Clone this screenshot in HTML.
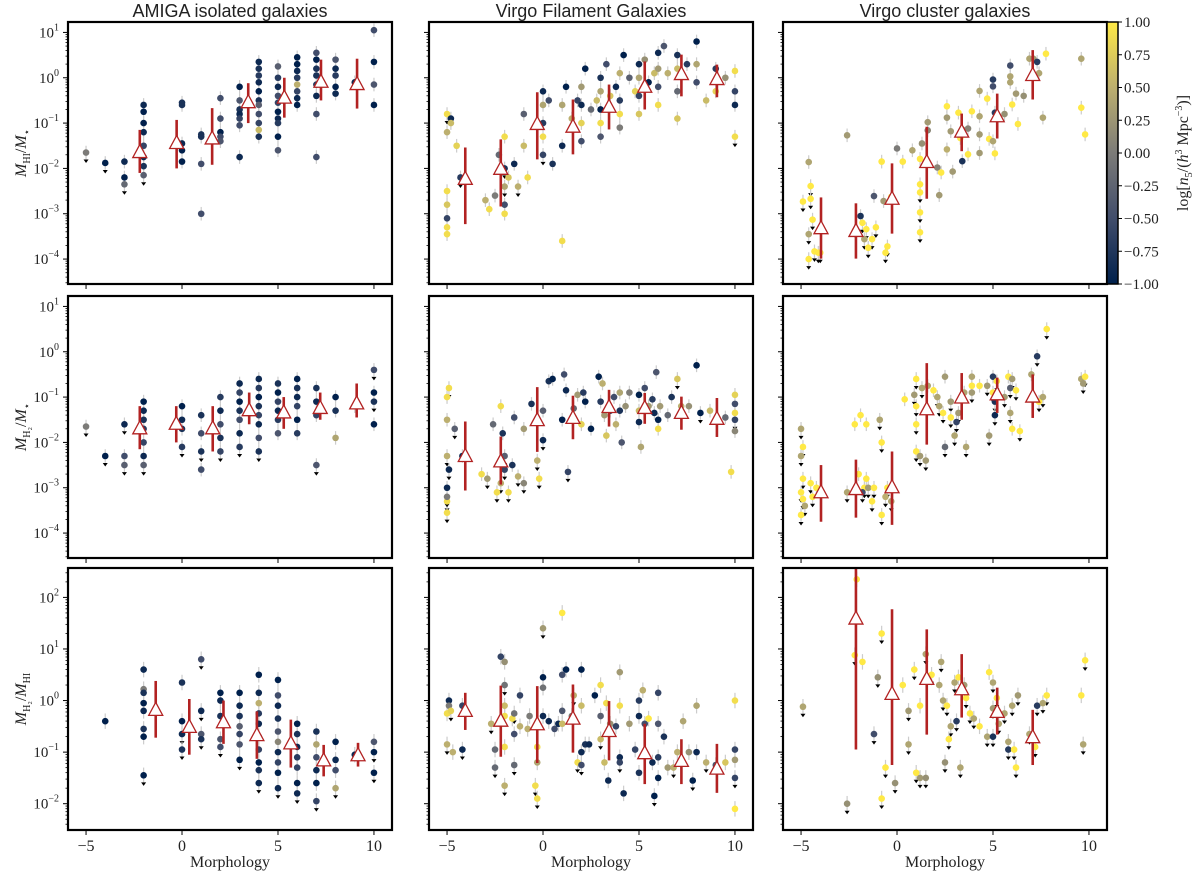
<!DOCTYPE html>
<html><head><meta charset="utf-8"><style>
body{margin:0;background:#fff;width:1200px;height:885px;overflow:hidden}
svg{display:block}
text{font-family:"Liberation Serif",serif;fill:#222}
.t{font-family:"Liberation Sans",sans-serif;font-size:18px}
</style></head><body>
<svg id="chart" width="1200" height="885" xmlns="http://www.w3.org/2000/svg">
<defs><linearGradient id="cmap" x1="0" y1="1" x2="0" y2="0">
<stop offset="0" stop-color="#00204c"/><stop offset="0.25" stop-color="#414d6b"/><stop offset="0.5" stop-color="#7c7b78"/><stop offset="0.75" stop-color="#bcaf6f"/><stop offset="1" stop-color="#ffe945"/></linearGradient></defs>
</svg>
<script>
// data: [morphology, log10 value, log density, upperLimit]
const amigaHI=[[-5,-1.65,0,1],[-4,-1.88,-1,1],[-3,-1.85,-0.9,0],[-3,-2.2,-1,0],[-3,-2.35,-0.2,1],[-2,-0.6,-0.9,0],[-2,-0.75,-1,0],[-2,-1.0,-1,0],[-2,-1.2,-0.9,0],[-2,-1.5,-0.6,0],[-2,-1.75,-0.9,0],[-2,-1.95,-0.8,0],[-2,-2.15,-0.3,1],[0,-0.55,-0.8,0],[0,-0.6,-0.8,0],[0,-1.45,-0.9,0],[0,-1.6,-1,0],[0,-1.85,-1,0],[1,-1.25,-0.8,0],[1,-1.3,-0.8,0],[1,-1.9,-0.5,0],[1,-3.0,-0.5,0],[2,-0.45,-0.5,0],[2,-0.9,-0.5,0],[2,-1.2,-1,0],[2,-1.3,-0.5,0],[2,-1.4,-0.4,0],[3,-0.2,-1,0],[3,-0.5,-0.4,0],[3,-0.7,-0.8,0],[3,-0.8,-0.9,0],[3,-0.9,-0.6,0],[3,-1.05,-0.5,0],[3,-1.75,-0.9,0],[4,0.35,-0.9,0],[4,0.2,-0.8,0],[4,0.05,-0.7,0],[4,-0.1,-0.9,0],[4,-0.3,-1,0],[4,-0.5,-0.8,0],[4,-0.6,-0.3,0],[4,-0.8,-0.5,0],[4,-1.0,-0.6,0],[4,-1.15,0.6,0],[4,-1.3,-0.8,0],[5,0.25,-0.3,0],[5,0.0,-0.7,0],[5,-0.2,-0.9,0],[5,-0.4,-0.5,0],[5,-0.55,-0.6,0],[5,-0.75,-1,0],[5,-0.9,-0.9,0],[5,-1.0,-0.7,0],[5,-1.3,-1,0],[5,-1.6,-0.4,0],[6,0.45,-1,0],[6,0.3,-1,0],[6,0.15,-0.9,0],[6,0.0,-0.7,0],[6,-0.15,0.5,0],[6,-0.3,-0.6,0],[6,-0.45,-0.9,0],[6,-0.6,-1,0],[7,0.55,-0.5,0],[7,0.4,-1,0],[7,0.2,-0.8,0],[7,0.05,-0.8,0],[7,-0.15,-0.7,0],[7,-0.4,-0.9,0],[7,-0.8,-0.5,0],[7,-1.75,-0.5,0],[8,0.4,-0.4,0],[8,0.2,-0.9,0],[8,0.05,-0.7,0],[8,-0.2,-1,0],[8,-0.35,-0.9,0],[9,-0.1,-0.9,0],[10,1.05,-0.5,0],[10,0.35,-1,0],[10,-0.15,-0.4,0],[10,-0.6,-1,0]];
const amigaH2=[[-5,-1.65,0,1],[-4,-2.3,-1,1],[-3,-1.6,-0.9,1],[-3,-2.3,-0.5,0],[-3,-2.5,-0.3,1],[-2,-1.1,-1,0],[-2,-1.3,-0.9,0],[-2,-1.5,-0.8,0],[-2,-1.7,-0.7,0],[-2,-2.0,-0.6,0],[-2,-2.3,-0.9,0],[-2,-2.5,-0.3,1],[0,-1.2,-1,0],[0,-1.5,-0.9,0],[0,-1.7,-0.8,0],[0,-2.1,-0.7,1],[1,-1.4,-0.8,0],[1,-1.8,-0.5,0],[1,-2.2,-0.8,1],[1,-2.6,-0.5,0],[2,-1.0,-0.7,0],[2,-1.3,-0.9,0],[2,-1.6,-0.5,0],[2,-1.9,-0.8,0],[2,-2.2,-0.6,1],[3,-0.7,-0.9,0],[3,-0.9,-0.6,0],[3,-1.1,-1,0],[3,-1.3,-0.8,0],[3,-1.5,-0.5,0],[3,-1.8,-0.9,0],[3,-2.1,-0.7,1],[4,-0.6,-0.9,0],[4,-0.8,-0.7,0],[4,-1.0,-1,0],[4,-1.2,-0.8,0],[4,-1.4,-0.6,0],[4,-1.6,-0.9,0],[4,-1.9,-0.5,0],[4,-2.2,-0.8,1],[5,-0.7,-0.8,0],[5,-0.9,-1,0],[5,-1.1,-0.6,0],[5,-1.3,-0.9,0],[5,-1.5,-0.7,0],[5,-1.8,-0.4,0],[6,-0.6,-1,0],[6,-0.8,-0.8,0],[6,-1.0,-0.9,0],[6,-1.2,-0.6,0],[6,-1.5,-1,0],[6,-1.8,-0.7,0],[7,-0.8,-0.8,0],[7,-1.1,-0.9,0],[7,-1.4,-0.6,0],[7,-2.5,-0.4,1],[8,-1.0,-1,0],[8,-1.3,-0.8,0],[8,-1.9,0.4,0],[9,-1.2,-0.9,0],[10,-0.4,-0.5,1],[10,-0.9,-1,0],[10,-1.1,-0.8,1],[10,-1.6,-1,0]];
const amigaRatio=[[-4,-0.4,-1,0],[-2,0.6,-0.9,0],[-2,0.22,0,0],[-2,0.15,-0.8,0],[-2,-0.05,-1,0],[-2,-0.2,-0.9,0],[-2,-0.55,-0.8,1],[-2,-0.7,-1,0],[-2,-1.45,-1,1],[0,0.35,-0.8,0],[0,-0.4,-1,0],[0,-0.65,-0.9,1],[0,-0.95,-0.8,1],[1,0.8,-0.5,1],[1,-0.2,-0.9,1],[1,-0.65,-0.4,0],[1,-0.75,-0.8,1],[2,0.15,-1,0],[2,0.0,-0.9,0],[2,-0.3,-0.8,0],[2,-0.75,-0.4,0],[2,-0.9,-0.5,1],[3,0.15,-1,0],[3,-0.1,-0.9,0],[3,-0.3,-0.8,0],[3,-0.5,-0.3,0],[3,-0.65,-0.6,0],[3,-0.85,-0.4,0],[3,-1.15,-1,1],[4,0.5,-1,0],[4,0.15,-0.9,0],[4,-0.05,0.5,0],[4,-0.25,-0.7,0],[4,-0.45,-0.9,0],[4,-0.7,-0.8,0],[4,-0.95,-0.6,0],[4,-1.2,-1,0],[4,-1.35,-0.8,0],[4,-1.6,-0.9,1],[5,0.4,-1,0],[5,0.1,-0.5,0],[5,-0.1,-0.9,0],[5,-0.35,-0.8,0],[5,-0.6,-0.4,0],[5,-0.8,0.1,0],[5,-1.0,-0.9,0],[5,-1.2,-0.6,0],[5,-1.4,-1,0],[5,-1.7,-0.9,1],[6,-0.45,-1,0],[6,-0.65,-0.8,0],[6,-0.9,-0.9,0],[6,-1.1,-0.7,0],[6,-1.3,-0.6,0],[6,-1.6,-1,0],[6,-1.8,-0.9,1],[7,-0.6,-0.8,0],[7,-0.85,0.4,0],[7,-1.1,-0.5,0],[7,-1.35,-0.9,0],[7,-1.6,-1,0],[7,-1.95,-0.6,1],[8,-0.8,-1,0],[8,-1.15,-0.9,0],[8,-1.35,-0.5,0],[8,-1.7,0.4,1],[9,-1.05,-0.9,0],[10,-0.8,-0.4,0],[10,-1.0,-1,1],[10,-1.4,-1,1]];
const filHI=[[-5,-0.8,0.9,1],[-5,-1.2,0.5,0],[-5,-2.5,0.9,0],[-5,-2.8,0.7,0],[-5,-3.1,-0.6,1],[-5,-3.3,0.9,1],[-5,-3.45,0.9,0],[-4.8,-0.9,-0.9,0],[-4.8,-1.0,0.6,0],[-4.5,-1.5,0.8,0],[-4.3,-2.2,-0.7,1],[-3,-2.7,0.5,0],[-2.8,-2.9,0.9,0],[-2.5,-2.6,0,0],[-2.3,-1.7,-0.2,0],[-2,-1.3,0.9,0],[-2,-2.0,-0.8,1],[-2,-2.4,0.4,1],[-2,-2.8,-0.5,1],[-2,-3.0,0.9,0],[-1.8,-2.2,0.7,0],[-1.5,-1.9,-0.9,0],[-1.3,-2.4,0.5,1],[-1,-0.8,-0.3,0],[-1,-1.5,0.6,0],[-0.8,-2.2,0.9,0],[0,-0.3,-0.9,0],[0,-0.6,0.4,0],[0,-1.0,-0.7,0],[0,-1.3,0.9,0],[0,-1.7,-0.6,1],[0.3,-0.5,-0.5,0],[0.5,-1.9,-0.8,0],[1,-0.6,0.4,0],[1,-1.5,-0.9,0],[1,-3.6,0.9,0],[1.2,-0.2,-1,0],[1.5,-0.9,0.5,0],[1.8,-0.5,-0.6,0],[2,-0.2,0.3,0],[2,-0.6,-0.9,0],[2,-1.0,0.8,0],[2,-1.4,-0.5,0],[2.2,0.2,-1,0],[2.5,-0.7,-0.2,0],[2.8,-0.5,0.6,0],[3,0.0,-0.8,0],[3,-0.3,0.4,0],[3,-0.7,-1,0],[3,-1.0,0.9,0],[3,-1.3,-0.4,0],[3.3,0.3,-0.5,0],[3.5,-0.4,0.7,0],[3.8,-0.2,-0.9,0],[4,0.1,0.5,0],[4,-0.5,-0.7,0],[4,-0.8,0.9,0],[4,-1.1,0,0],[4.2,0.5,-1,0],[4.5,0.0,-0.3,0],[4.8,-0.3,0.8,0],[5,0.3,-0.9,0],[5,0.0,0.4,0],[5,-0.4,-0.6,0],[5,-0.8,0.7,0],[5.3,0.4,0.2,0],[5.5,-0.1,-1,0],[5.8,0.1,0.6,0],[6,0.55,-0.9,0],[6,0.2,0.3,0],[6,-0.2,-0.5,0],[6,-0.6,0.9,0],[6.3,0.7,-0.4,0],[6.5,0.1,0.5,0],[7,0.5,-0.8,0],[7,0.2,0.6,0],[7,-0.3,-0.2,0],[7,-0.9,0.7,0],[7.5,0.3,-0.7,0],[8,0.8,-1,0],[8,0.3,0.4,0],[8,-0.1,-0.5,0],[8.5,-0.5,0.6,0],[9,0.2,-0.7,0],[9,-0.3,0.8,0],[9.5,0.0,0.2,0],[10,0.15,0.9,0],[10,-0.3,-0.6,0],[10,-0.6,-0.9,0],[10,-1.3,0.9,1]];
const filH2=[[-5,-1.0,0.9,0],[-5,-1.5,0.5,0],[-4.9,-0.8,0.9,1],[-5,-2.3,0.5,1],[-5,-3.0,-0.9,0],[-5,-3.3,0.9,1],[-5,-3.55,0.9,1],[-5,-3.2,0,1],[-4.9,-2.6,-0.9,1],[-4.6,-1.7,-0.3,1],[-4.2,-2.3,-0.9,0],[-3.2,-2.7,0.9,0],[-2.9,-2.8,0.3,1],[-2.6,-1.6,-0.2,0],[-2.4,-3.1,0.9,1],[-2.2,-2.9,0.5,1],[-2.2,-1.2,0.9,0],[-2.1,-1.8,-0.8,0],[-2,-2.3,-0.3,1],[-2,-2.6,-0.6,1],[-1.8,-3.1,0.9,1],[-1.6,-2.5,-0.8,0],[-1.5,-1.45,-0.5,0],[-1.3,-2.75,0.5,1],[-1,-2.9,0.1,1],[-1,-1.7,0.3,0],[-0.6,-1.15,-0.8,0],[-0.3,-2.4,0.5,1],[-0.2,-2.8,0.9,1],[0,-1.3,-0.3,0],[0,-1.95,-0.9,1],[0.3,-0.65,-0.8,0],[0.5,-0.6,-1,0],[1,-1.5,-1,0],[1.1,-0.5,-0.5,0],[1.2,-0.85,-0.9,0],[1.3,-2.65,-0.6,1],[1.6,-1.25,-0.2,0],[1.8,-0.95,0.3,0],[2,-1.6,0.8,0],[2.1,-0.9,-0.7,0],[2.2,-1.1,-1,0],[2.5,-1.7,-1,0],[2.9,-0.55,-1,0],[3,-1.1,-0.7,0],[3.1,-0.7,0.5,0],[3.2,-1.4,0.3,0],[3.3,-1.85,0.7,0],[3.5,-1.3,-0.9,0],[3.7,-1.0,-0.5,0],[3.8,-1.6,0.5,0],[4,-0.9,0.4,0],[4,-1.3,-0.8,0],[4.1,-2.0,-0.4,0],[4.3,-1.2,0.2,0],[4.5,-0.9,0,0],[5,-0.95,-1,0],[5,-1.3,0.6,0],[5,-1.55,-0.9,0],[5.1,-2.1,0.4,0],[5.3,-0.8,-0.5,0],[5.5,-1.2,0.3,0],[5.7,-1.05,-0.7,0],[5.8,-1.35,-0.9,0],[5.9,-0.45,-0.4,0],[6,-1.5,-1,1],[6,-1.7,0.9,0],[6.1,-1.2,0.3,0],[6.5,-1.4,-0.2,0],[6.7,-1.0,-0.8,0],[7,-0.6,0.7,1],[7.2,-1.2,0.5,0],[7.6,-1.2,0.2,0],[8,-0.3,-1,0],[8.2,-1.35,-1,1],[8.7,-1.3,0.6,0],[9.5,-1.45,-0.2,0],[10,-0.95,0.8,0],[10,-1.15,-0.5,1],[10,-1.35,0.9,0],[10,-1.5,-0.6,1],[10,-1.75,0.1,0],[9.8,-2.65,0.9,0]];
const filRatio=[[-5,-0.25,0.9,0],[-4.9,0.0,-0.9,0],[-4.9,-0.1,0,1],[-4.8,-0.2,0.8,1],[-5,-0.85,0.5,1],[-4.7,-1.0,0.5,0],[-4.2,-0.1,-0.6,1],[-4.2,-0.95,-0.9,1],[-2.7,-0.45,0.5,1],[-2.5,-0.95,-0.2,0],[-2.5,-1.3,-0.2,1],[-2.2,0.85,-0.6,0],[-2,0.75,0.2,0],[-2,0.3,-0.1,1],[-2,-0.1,0.6,0],[-2,-0.3,0.9,0],[-2,-0.9,0.9,0],[-2,-1.65,0.5,1],[-1.6,-0.35,0.9,0],[-1.5,-0.25,-0.1,1],[-1.5,-0.65,-0.5,0],[-1.5,-1.25,-0.2,1],[-1.2,0.1,-0.6,0],[-1.2,-0.5,0.5,0],[-0.8,-0.55,0.5,0],[-0.7,-0.3,0,0],[-0.4,-1.65,0.9,1],[-0.3,-1.9,0.9,1],[-0.3,-0.9,0.9,0],[-0.3,-1.2,0.4,0],[0,1.4,0.3,1],[0,0.45,-1,0],[0,0.25,-0.1,0],[0,-0.3,-0.9,0],[0.3,-0.4,-0.9,0],[0.6,-0.55,-0.5,0],[0.8,-0.45,-0.9,0],[1,0.5,-0.5,0],[1,-0.2,-0.4,0],[1,-0.45,0.6,0],[1,1.7,1,0],[1.2,0.6,-1,0],[1.5,-0.3,0,0],[1.6,0.1,0.5,1],[1.8,-1.2,0.9,1],[2,0.6,-1,0],[2,-0.1,0.6,0],[2,-1.0,-0.9,0],[2,-1.25,-0.5,1],[2.2,-0.85,-0.8,0],[2.4,-0.85,-0.9,0],[2.7,0.1,-1,0],[3,0.3,0.9,0],[3,-0.3,-0.3,0],[3,-0.75,0.6,1],[3.2,-1.2,0.6,0],[3.3,-0.05,0.9,0],[3.4,-1.55,-0.9,0],[3.5,-0.45,0.2,0],[3.8,-0.5,-0.6,0],[4,0.55,0.3,0],[4,-0.1,0.9,0],[4,-1.1,-0.9,0],[4,-1.2,-0.6,1],[4.2,-1.8,-0.9,0],[4.5,-0.45,0.3,0],[4.8,-0.95,-0.6,0],[5,-0.3,-0.9,0],[5,0.0,-0.7,0],[5,-1.4,-0.8,0],[5.2,0.2,0.5,0],[5.3,-0.45,-0.5,0],[5.5,-0.35,1,0],[5.7,-1.2,-0.9,0],[5.8,-1.85,-1,1],[6,-0.45,-0.4,0],[6,0.15,-0.6,0],[6,-1.5,-1,0],[6,-1.1,-0.7,0],[6.3,-0.7,-0.8,0],[6.5,-1.3,0.3,0],[6.8,-1.3,0.5,1],[7,-1.0,0.5,0],[7.3,-0.4,0.4,0],[7.6,-1.0,0.2,0],[7.8,-1.55,-1,1],[8,-1.0,-0.9,0],[8,-0.1,0.4,0],[8.5,-1.2,0.5,1],[9,-1.25,-0.4,0],[9.5,-1.2,0.7,0],[10,0.0,0.9,0],[10,-0.95,-0.6,0],[10,-1.15,0.3,0],[10,-1.5,-0.6,1],[10,-2.1,1,0]];
const cluHI=[[-4.9,-2.73,1,1],[-4.6,-1.86,0.4,0],[-4.5,-2.39,1,1],[-4.5,-2.67,1,1],[-4.4,-3.13,1,1],[-4.6,-3.45,0.4,1],[-4.6,-4.0,1,1],[-4.3,-3.83,1,1],[-4.1,-3.86,1,1],[-4.0,-3.86,1,1],[-2.6,-1.27,0.3,0],[-2.2,-3.38,1,0],[-1.9,-3.05,-0.8,0],[-1.8,-3.2,1,1],[-1.6,-3.34,1,1],[-1.5,-3.75,1,1],[-1.7,-3.56,0.4,1],[-1.3,-3.56,1,1],[-1.1,-3.3,1,1],[-1.2,-2.61,-0.4,0],[-0.7,-2.72,0.3,0],[-0.6,-3.86,1,1],[-0.5,-3.72,1,1],[-0.3,-2.63,1,0],[0,-1.56,0,0],[0.3,-1.85,1,0],[-0.8,-1.85,1,0],[0.8,-1.6,0.4,0],[1.2,-1.79,1,0],[1.2,-2.35,1,0],[1.2,-2.53,1,1],[1.2,-2.97,1,1],[1.2,-3.41,1,1],[1.3,-1.45,0.2,0],[1.6,-0.98,0.3,0],[1.6,-1.16,0.1,0],[2.1,-1.98,0.1,0],[2.2,-2.59,0.3,0],[2.3,-2.09,1,0],[2.6,-0.63,1,0],[2.6,-0.88,0.3,0],[2.8,-1.18,0.3,0],[2.6,-1.58,0.5,0],[2.9,-2.07,0.3,0],[3.2,-0.77,1,0],[3.3,-1.33,1,0],[3.4,-1.14,0.2,0],[3.4,-1.84,-0.8,0],[3.7,-1.69,1,0],[3.7,-1.12,0.1,0],[3.9,-0.74,1,0],[4.3,-0.29,0.4,0],[4.3,-0.85,0.4,0],[4.3,-1.25,0.3,0],[4.3,-1.66,0.3,0],[4.7,-0.46,1,0],[4.8,-1.35,1,0],[5.0,-0.04,-0.7,0],[5.0,-0.19,-0.5,0],[5.1,-0.77,-0.7,0],[5.0,-1.4,0.4,0],[5.1,-1.67,1,0],[5.6,-0.8,0.2,0],[5.9,0.27,-0.5,0],[5.9,0.03,0.4,0],[5.9,-0.1,0.4,0],[6.0,-0.59,1,0],[6.2,-0.35,0.3,0],[6.3,-1.02,1,0],[6.6,-0.4,0.2,0],[6.9,0.42,0.4,0],[7.1,0.42,0.3,0],[7.3,0.35,-0.7,0],[7.4,0.1,0.4,0],[7.76,0.53,1,0],[7.6,-0.88,0.4,0],[9.6,0.42,0.4,0],[9.6,-0.66,1,0],[9.8,-1.25,1,0]];
const cluH2=[[-5,-1.7,0.4,1],[-4.9,-2.1,1,1],[-5,-2.3,0.4,1],[-4.9,-2.8,1,1],[-5,-3.1,1,1],[-4.9,-3.25,1,1],[-5,-3.6,1,1],[-4.8,-3.4,0.4,1],[-4.5,-2.9,1,1],[-4.4,-3.2,1,1],[-4.2,-3.0,1,1],[-2.6,-3.1,0.4,1],[-2.2,-1.6,1,0],[-2,-2.7,1,0],[-1.9,-1.4,1,0],[-1.7,-3.0,1,1],[-1.6,-2.8,1,1],[-1.8,-3.1,-0.5,1],[-1.5,-3.0,0.3,1],[-1.3,-3.3,1,1],[-1.2,-3.0,1,1],[-1.6,-1.6,1,0],[-0.9,-1.5,0.4,1],[-0.8,-2.0,1,1],[-0.8,-3.6,1,1],[-0.6,-3.2,0.5,1],[-0.5,-3.0,1,1],[-0.3,-3.3,0.4,1],[0.4,-1.05,1,0],[1.0,-0.6,1,1],[1.0,-1.2,1,1],[1.0,-1.6,1,1],[1.0,-2.2,1,1],[1.2,-2.3,0.3,1],[1.5,-2.4,0.3,1],[0.9,-0.95,0.3,1],[1.3,-0.8,0.4,1],[1.6,-0.75,0.4,0],[1.9,-0.85,1,0],[2.1,-1.0,0.4,1],[2.2,-1.2,0.4,1],[2.5,-0.55,0.3,0],[2.5,-2.1,-0.2,1],[2.4,-1.35,1,1],[2.8,-1.1,0.3,1],[2.8,-1.45,1,1],[3.0,-1.85,0.4,1],[3.1,-1.55,-0.6,1],[3.2,-1.35,0.3,1],[3.5,-0.9,0.4,0],[3.6,-2.1,0.4,1],[3.9,-0.55,0.4,1],[3.9,-0.75,1,1],[3.9,-0.9,0.3,1],[4.3,-0.75,1,0],[4.7,-0.75,0.3,1],[4.8,-1.85,0.3,1],[5.0,-0.55,-0.7,0],[5.0,-0.9,1,1],[5.1,-1.1,-0.8,1],[5.1,-1.4,-0.9,1],[5.2,-0.65,1,1],[5.6,-1.0,0.3,1],[5.8,-0.55,1,0],[5.9,-0.8,-0.3,1],[5.9,-1.35,0.4,1],[6.0,-1.7,1,0],[6.0,-0.6,0.3,1],[6.2,-0.85,1,1],[6.4,-1.75,1,1],[7.0,-0.5,0.4,0],[7.4,-1.1,1,1],[7.3,-0.1,-0.7,1],[7.6,-1.0,0.4,1],[7.8,0.5,1,1],[9.6,-0.6,0.4,0],[9.8,-0.55,1,1],[9.7,-0.7,0.3,1]];
const cluRatio=[[-4.9,-0.12,0.4,1],[-2.6,-2.0,0.2,1],[-2.1,2.35,1,0],[-2.2,0.88,1,1],[-1.8,0.75,1,0],[-1.0,0.45,0.2,1],[-1.2,-0.65,-0.5,1],[-0.8,1.3,1,1],[-0.6,-1.3,1,1],[-0.8,-1.9,1,1],[-0.1,-1.6,0.2,1],[0.3,0.3,1,0],[0.6,-0.2,0.3,1],[0.6,-0.85,0.4,1],[0.9,0.6,1,1],[1.0,-1.4,1,1],[1.2,-1.5,0.3,1],[1.2,-0.1,1,0],[1.5,-1.5,0.2,1],[1.5,0.9,0.4,1],[1.8,0.5,1,1],[2.2,0.3,0.4,0],[2.3,0.75,0.4,1],[2.4,0.0,0.4,1],[2.5,-1.2,0.2,1],[2.6,-0.1,1,1],[2.8,-0.5,0.4,1],[2.7,-0.75,1,1],[3.0,0.35,0.4,1],[3.1,-0.4,-0.7,1],[3.2,0.45,1,0],[3.3,-1.3,0.4,1],[3.5,0.3,0.3,1],[3.6,0.05,1,1],[3.8,-0.25,1,1],[4.0,-0.35,0.4,1],[4.3,-0.5,1,0],[4.7,-0.7,0.4,1],[4.8,0.55,1,0],[5.0,-0.15,0.3,1],[5.0,0.35,0.4,1],[5.0,-0.7,-0.8,1],[5.2,0.05,1,1],[5.3,-0.45,0.4,1],[5.6,-0.25,0.4,1],[5.8,-0.8,0.4,1],[5.8,-0.95,-0.7,1],[6.0,-0.1,0.4,1],[6.1,-0.95,1,1],[6.2,-1.3,1,1],[6.3,0.1,0.3,1],[6.9,-0.65,0.4,1],[7.2,-0.9,1,1],[7.3,-0.1,-0.7,1],[7.6,-0.05,0.4,1],[7.8,0.1,1,1],[9.6,0.1,1,0],[9.8,0.78,1,1],[9.7,-0.85,0.4,1]];
// medians: [morphology, log median, log low, log high]
const medAmigaHI=[[-2.2,-1.65,-2.1,-1.15],[-0.28,-1.45,-2.0,-0.93],[1.57,-1.35,-1.92,-0.67],[3.45,-0.55,-1.0,-0.12],[5.33,-0.45,-0.88,0.0],[7.24,-0.1,-0.5,0.4],[9.12,-0.15,-0.68,0.42]];
const medAmigaH2=[[-2.2,-1.7,-2.15,-1.2],[-0.3,-1.6,-2.0,-1.2],[1.6,-1.7,-2.2,-1.2],[3.5,-1.3,-1.6,-0.9],[5.3,-1.35,-1.7,-1.0],[7.2,-1.25,-1.5,-0.9],[9.1,-1.15,-1.45,-0.7]];
const medAmigaRatio=[[-1.37,-0.19,-0.72,0.38],[0.38,-0.52,-1.05,0.03],[2.16,-0.43,-0.84,0.0],[3.9,-0.68,-1.13,-0.21],[5.67,-0.84,-1.3,-0.37],[7.38,-1.17,-1.47,-0.86],[9.17,-1.07,-1.28,-0.82]];
const medFilHI=[[-4.05,-2.24,-3.23,-1.54],[-2.2,-2.02,-2.84,-1.36],[-0.3,-1.03,-1.8,-0.32],[1.56,-1.09,-1.69,-0.48],[3.44,-0.65,-1.14,-0.15],[5.3,-0.21,-0.7,0.36],[7.21,0.07,-0.41,0.51],[9.06,-0.04,-0.43,0.29]];
const medFilH2=[[-4.05,-2.31,-3.06,-1.54],[-2.2,-2.43,-2.93,-1.87],[-0.3,-1.52,-2.21,-0.78],[1.56,-1.47,-1.93,-0.97],[3.44,-1.23,-1.65,-0.84],[5.3,-1.25,-1.59,-0.91],[7.21,-1.36,-1.72,-0.99],[9.06,-1.49,-1.88,-1.02]];
const medFilRatio=[[-4.05,-0.21,-0.57,0.15],[-2.2,-0.4,-1.09,0.29],[-0.3,-0.47,-1.21,0.28],[1.56,-0.36,-1.01,0.31],[3.44,-0.6,-1.16,-0.01],[5.3,-1.03,-1.62,-0.45],[7.21,-1.18,-1.62,-0.75],[9.06,-1.33,-1.79,-0.84]];
const medCluHI=[[-3.96,-3.33,-3.99,-2.64],[-2.14,-3.39,-3.99,-2.77],[-0.26,-2.68,-3.44,-1.89],[1.55,-1.87,-2.67,-1.08],[3.37,-1.2,-1.62,-0.79],[5.22,-0.86,-1.34,-0.35],[7.07,0.05,-0.48,0.61]];
const medCluH2=[[-3.96,-3.11,-3.75,-2.5],[-2.14,-3.04,-3.66,-2.38],[-0.26,-3.0,-3.82,-2.2],[1.55,-1.28,-2.05,-0.25],[3.37,-1.02,-1.5,-0.47],[5.22,-0.95,-1.35,-0.57],[7.07,-1.0,-1.46,-0.5]];
const medCluRatio=[[-2.14,1.58,-0.95,2.6],[-0.26,0.12,-1.25,1.77],[1.55,0.41,-0.66,1.38],[3.37,0.21,-0.33,0.9],[5.22,-0.23,-0.66,0.25],[7.07,-0.72,-1.25,-0.18]];
const titles=["AMIGA isolated galaxies","Virgo Filament Galaxies","Virgo cluster galaxies"];
const xTicks=[-5,0,5,10];
const cbTicks=["1.00","0.75","0.50","0.25","0.00","\u22120.25","\u22120.50","\u22120.75","\u22121.00"];

const NS="http://www.w3.org/2000/svg";
const svg=document.getElementById('chart');
const colL=[68,429,783], W=324, rowT=[22,296,568], H=262;
const yRange=[[-4.55,1.23],[-4.55,1.23],[-2.51,2.57]];
const xMin=-5.94,xMax=10.94;
function mk(tag,attrs,parent){const e=document.createElementNS(NS,tag);for(const k in attrs)e.setAttribute(k,attrs[k]);(parent||svg).appendChild(e);return e;}
function cmap(d){const s=[[0,32,76],[65,77,107],[124,123,120],[188,175,111],[255,233,69]];let t=(Math.max(-1,Math.min(1,d))+1)*2;let i=Math.min(3,Math.floor(t));let f=t-i;const c=s[i].map((v,k)=>Math.round(v+(s[i+1][k]-v)*f));return `rgb(${c})`;}
const panels=[[amigaHI,filHI,cluHI],[amigaH2,filH2,cluH2],[amigaRatio,filRatio,cluRatio]];
const meds=[[medAmigaHI,medFilHI,medCluHI],[medAmigaH2,medFilH2,medCluH2],[medAmigaRatio,medFilRatio,medCluRatio]];
const ylabels=['<tspan font-style="italic">M</tspan><tspan font-size="10" dy="4">HI</tspan><tspan dy="-4">/</tspan><tspan font-style="italic">M</tspan><tspan font-size="10" dy="4">⋆</tspan>',
'<tspan font-style="italic">M</tspan><tspan font-size="10" dy="4">H₂</tspan><tspan dy="-4">/</tspan><tspan font-style="italic">M</tspan><tspan font-size="10" dy="4">⋆</tspan>',
'<tspan font-style="italic">M</tspan><tspan font-size="10" dy="4">H₂</tspan><tspan dy="-4">/</tspan><tspan font-style="italic">M</tspan><tspan font-size="10" dy="4">HI</tspan>'];
for(let r=0;r<3;r++){for(let c=0;c<3;c++){
  const L=colL[c],T=rowT[r],[y0,y1]=yRange[r];
  const sx=v=>L+(v-xMin)/(xMax-xMin)*W;
  const sy=v=>T+H-(v-y0)/(y1-y0)*H;
  const g=mk('g',{});
  
  
  mk('rect',{x:L,y:T,width:W,height:H,fill:'#fff'},g);
  // y ticks
  for(let e=Math.ceil(y0);e<=Math.floor(y1);e++){
    mk('line',{x1:L-5,x2:L,y1:sy(e),y2:sy(e),stroke:'#000','stroke-width':1},g);
    for(let k=2;k<10;k++){const v=e+Math.log10(k);if(v<y1)mk('line',{x1:L-2.5,x2:L,y1:sy(v),y2:sy(v),stroke:'#000','stroke-width':0.8},g);}
    if(c===0){const t=mk('text',{x:L-9,y:sy(e)+5,'text-anchor':'end','font-size':15},g);t.innerHTML=`10<tspan font-size="10" dy="-7">${e<0?'\u2212'+(-e):e}</tspan>`;}
  }
  for(let k=2;k<10;k++){const v=Math.floor(y0)+Math.log10(k);if(v>y0)mk('line',{x1:L-2.5,x2:L,y1:sy(v),y2:sy(v),stroke:'#000','stroke-width':0.8},g);}
  xTicks.forEach(v=>{mk('line',{x1:sx(v),x2:sx(v),y1:T+H,y2:T+H+5,stroke:'#000','stroke-width':1},g);
    if(r===2){const t=mk('text',{x:sx(v),y:T+H+21,'text-anchor':'middle','font-size':16},g);t.textContent=v<0?'\u2212'+(-v):v;}});
  // points
  const pg=mk('g',{},g);
  
  
  panels[r][c].forEach(p=>{
    const x=sx(p[0]),y=sy(p[1]);
    mk('line',{x1:x,x2:x,y1:sy(p[1]+0.15),y2:sy(p[1]-0.15),stroke:'#ccc','stroke-width':1.2},pg);
    if(p[3]){mk('path',{d:`M${x-2.5},${y+7}h5l-2.5,3.5z`,fill:'#000'},pg);}
  });
  panels[r][c].forEach(p=>{
    const pt=mk('circle',{cx:sx(p[0]),cy:sy(p[1]),r:3.3,fill:cmap(p[2])},pg);
    
    
  });
  // medians
  meds[r][c].forEach(m=>{
    const x=sx(m[0]);
    const eb=mk('line',{x1:x,x2:x,y1:sy(Math.max(m[2],y0)),y2:sy(Math.min(m[3],y1)),stroke:'#b22222','stroke-width':2.6},g);
    
    
    const y=sy(m[1]);
    const tr=mk('path',{d:`M${x},${y-8}L${x+7},${y+5}L${x-7},${y+5}Z`,fill:'#fff',stroke:'#b22222','stroke-width':1.3},g);
    
    
  });
  const fr=mk('rect',{x:L,y:T,width:W,height:H,fill:'none',stroke:'#000','stroke-width':2.2},g);
  
  
  if(r===0){const t=mk('text',{x:L+W/2,y:17,'text-anchor':'middle',class:'t'});t.textContent=titles[c];
    
    }
  if(c===0){const t=mk('text',{x:0,y:0,'text-anchor':'middle','font-size':16,transform:`translate(26,${T+H/2}) rotate(-90)`});t.innerHTML=ylabels[r];
    
    }
  if(r===2){const t=mk('text',{x:L+W/2,y:867,'text-anchor':'middle','font-size':16});t.textContent='Morphology';
    
    }
}}
// colorbar
const cb=mk('rect',{x:1107,y:22,width:11,height:262,fill:'url(#cmap)',stroke:'#000','stroke-width':1.5});


cbTicks.forEach((s,i)=>{const y=22+i*262/8;mk('line',{x1:1118,x2:1122,y1:y,y2:y,stroke:'#000'});
  const t=mk('text',{x:1124,y:y+5,'font-size':15});t.textContent=s;
  
  });
const cbl=mk('text',{x:0,y:0,'text-anchor':'middle','font-size':16,transform:'translate(1188,153) rotate(-90)'});
cbl.innerHTML='log[<tspan font-style="italic">n</tspan><tspan font-size="10" dy="4">5</tspan><tspan dy="-4">/(</tspan><tspan font-style="italic">h</tspan><tspan font-size="10" dy="-6">3</tspan><tspan dy="6"> Mpc</tspan><tspan font-size="10" dy="-6">\u22123</tspan><tspan dy="6">)]</tspan>';


</script>
</body></html>
